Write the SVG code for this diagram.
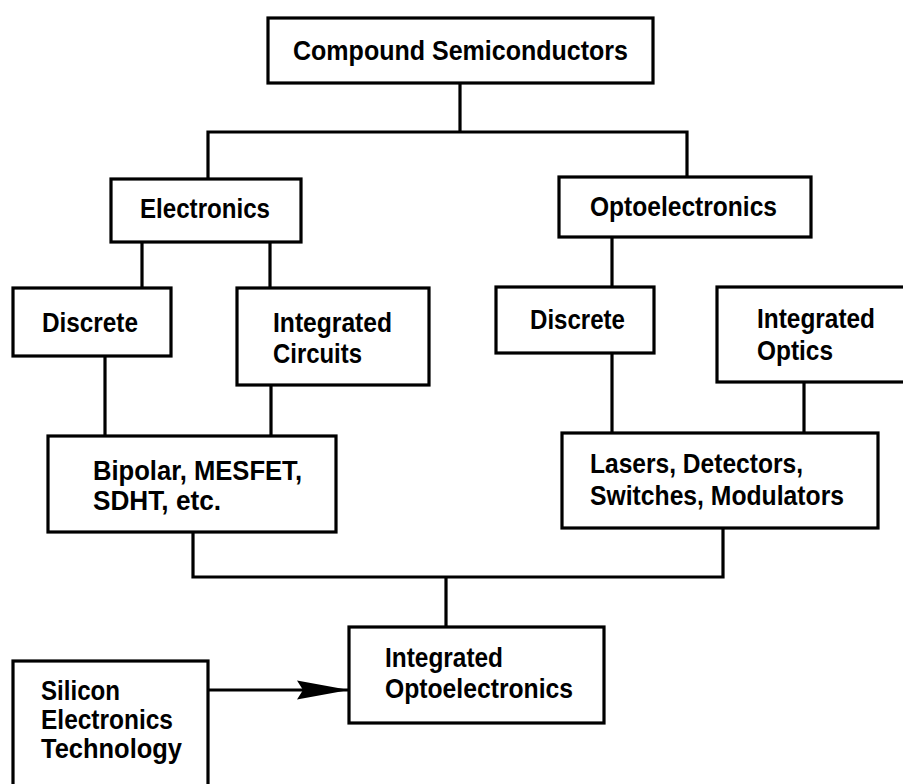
<svg xmlns="http://www.w3.org/2000/svg" width="903" height="784" viewBox="0 0 903 784">
<style>
  .box { fill: #ffffff; stroke: #000000; stroke-width: 3.2; }
  .conn { fill: none; stroke: #000000; stroke-width: 3.2; }
  text { font-family: "Liberation Sans", Arial, Helvetica, sans-serif; font-weight: bold; font-size: 27.5px; fill: #000000; }
</style>
<defs>
  <marker id="arrow" markerUnits="userSpaceOnUse" markerWidth="54" markerHeight="22" refX="52" refY="10" orient="auto">
    <path d="M0,0.5 L52,10 L0,19.5 L6,10 Z" fill="#000000"/>
  </marker>
</defs>
<rect width="903" height="784" fill="#ffffff"/>
<g id="connectors">
  <path class="conn" d="M460,83 V132"/>
  <path class="conn" d="M208,179 V132 H687 V177"/>
  <path class="conn" d="M142,242 V288"/>
  <path class="conn" d="M270,242 V288"/>
  <path class="conn" d="M612,237 V287"/>
  <path class="conn" d="M105,356 V436"/>
  <path class="conn" d="M271,385 V436"/>
  <path class="conn" d="M612,353 V433"/>
  <path class="conn" d="M804,382 V433"/>
  <path class="conn" d="M193,532 V577 H723 V528"/>
  <path class="conn" d="M446,577 V627"/>
  <path class="conn" d="M208,690 H349" marker-end="url(#arrow)"/>
</g>
<g id="compound">
  <rect class="box" x="268" y="18" width="385" height="65"/>
  <text x="293" y="60" textLength="335" lengthAdjust="spacingAndGlyphs">Compound Semiconductors</text>
</g>
<g id="electronics">
  <rect class="box" x="111" y="179" width="190" height="63"/>
  <text x="140" y="218" textLength="130" lengthAdjust="spacingAndGlyphs">Electronics</text>
</g>
<g id="optoelectronics">
  <rect class="box" x="559" y="177" width="252" height="60"/>
  <text x="590" y="216" textLength="187" lengthAdjust="spacingAndGlyphs">Optoelectronics</text>
</g>
<g id="discrete-electronics">
  <rect class="box" x="13" y="288" width="158" height="68"/>
  <text x="42" y="332" textLength="96" lengthAdjust="spacingAndGlyphs">Discrete</text>
</g>
<g id="integrated-circuits">
  <rect class="box" x="237" y="288" width="192" height="97"/>
  <text x="273" y="332" textLength="119" lengthAdjust="spacingAndGlyphs">Integrated</text>
  <text x="273" y="363" textLength="89" lengthAdjust="spacingAndGlyphs">Circuits</text>
</g>
<g id="discrete-opto">
  <rect class="box" x="496" y="287" width="158" height="66"/>
  <text x="530" y="329" textLength="95" lengthAdjust="spacingAndGlyphs">Discrete</text>
</g>
<g id="integrated-optics">
  <rect class="box" x="717" y="287" width="192" height="95"/>
  <text x="757" y="328" textLength="118" lengthAdjust="spacingAndGlyphs">Integrated</text>
  <text x="757" y="360" textLength="76" lengthAdjust="spacingAndGlyphs">Optics</text>
</g>
<g id="bipolar">
  <rect class="box" x="48" y="436" width="288" height="96"/>
  <text x="93" y="480" textLength="209" lengthAdjust="spacingAndGlyphs">Bipolar, MESFET,</text>
  <text x="93" y="510" textLength="128" lengthAdjust="spacingAndGlyphs">SDHT, etc.</text>
</g>
<g id="lasers">
  <rect class="box" x="562" y="433" width="316" height="95"/>
  <text x="590" y="473" textLength="213" lengthAdjust="spacingAndGlyphs">Lasers, Detectors,</text>
  <text x="590" y="505" textLength="254" lengthAdjust="spacingAndGlyphs">Switches, Modulators</text>
</g>
<g id="integrated-optoelectronics">
  <rect class="box" x="349" y="627" width="255" height="96"/>
  <text x="385" y="667" textLength="118" lengthAdjust="spacingAndGlyphs">Integrated</text>
  <text x="385" y="698" textLength="188" lengthAdjust="spacingAndGlyphs">Optoelectronics</text>
</g>
<g id="silicon">
  <rect class="box" x="13" y="661" width="195" height="140"/>
  <text x="41" y="700" textLength="79" lengthAdjust="spacingAndGlyphs">Silicon</text>
  <text x="41" y="729" textLength="132" lengthAdjust="spacingAndGlyphs">Electronics</text>
  <text x="41" y="758" textLength="141" lengthAdjust="spacingAndGlyphs">Technology</text>
</g>
</svg>
